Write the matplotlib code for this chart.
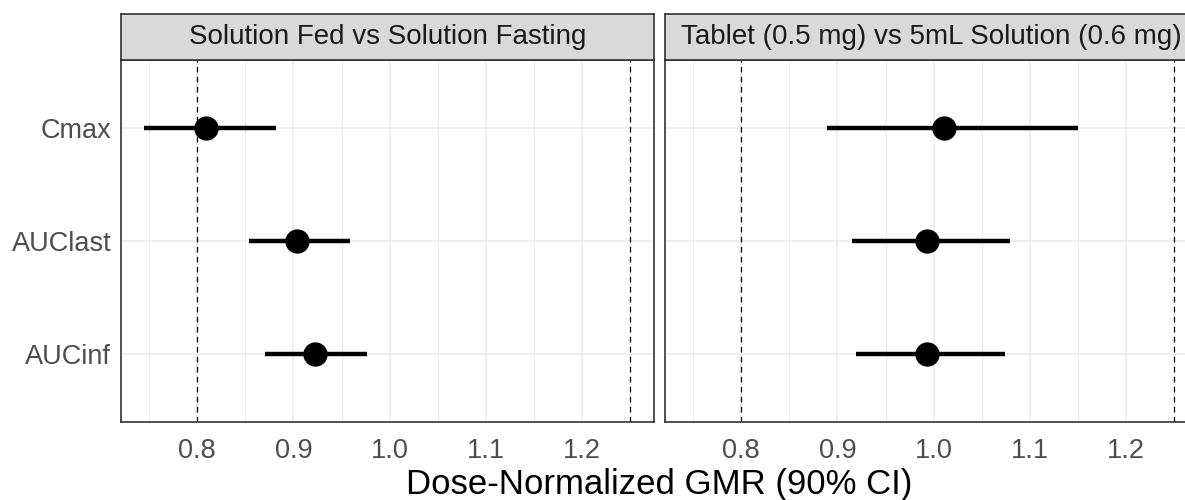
import matplotlib
matplotlib.use("Agg")

import numpy as np
import matplotlib.pyplot as plt

plt.rcParams['font.family'] = ['Liberation Sans', 'DejaVu Sans']

# ------------------------------------------------------------
# data
# ------------------------------------------------------------
metrics = ["Cmax", "AUClast", "AUCinf"]
panel_titles = ["Solution Fed vs Solution Fasting",
                "Tablet (0.5 mg) vs 5mL Solution (0.6 mg)"]

fed_gmr = [0.809, 0.904, 0.922]
fed_lo = [0.745, 0.854, 0.871]
fed_hi = [0.882, 0.959, 0.976]

tab_gmr = [1.011, 0.993, 0.993]
tab_lo = [0.889, 0.915, 0.919]
tab_hi = [1.150, 1.079, 1.074]

ref_lines = [0.8, 1.25]
x_major = [0.8, 0.9, 1.0, 1.1, 1.2]
x_minor = [0.75, 0.85, 0.95, 1.05, 1.15, 1.25]

panels = [(fed_gmr, fed_lo, fed_hi), (tab_gmr, tab_lo, tab_hi)]

# ------------------------------------------------------------
# layout (pixel based, figure 1185 x 500)
# ------------------------------------------------------------
W, H = 1185, 500
fig = plt.figure(figsize=(W / 100, H / 100), dpi=100)

panel_left = [121, 665]
panel_w = 533
panel_top, panel_bot = 60.3, 422.3
strip_top = 14.3

grid_col = '#EBEBEB'
border_col = '#333333'
text_col = '#4D4D4D'

for i, (gmr, lo, hi) in enumerate(panels):
    x0 = panel_left[i]
    ax = fig.add_axes([x0 / W, (H - panel_bot) / H, panel_w / W,
                       (panel_bot - panel_top) / H])
    y = np.arange(len(metrics))

    ax.set_xlim(0.721, 1.2745)
    ax.set_ylim(len(metrics) - 0.4, -0.6)

    # grid
    for xm in x_minor:
        ax.axvline(xm, color=grid_col, lw=0.7, zorder=0)
    for xm in x_major:
        ax.axvline(xm, color=grid_col, lw=1.1, zorder=0)
    for yy in y:
        ax.axhline(yy, color=grid_col, lw=1.1, zorder=0)

    for r in ref_lines:
        ax.axvline(r, color='black', lw=0.9, linestyle=(0, (4.5, 3.5)),
                   zorder=1)

    ax.hlines(y, lo, hi, color='black', lw=3.2, zorder=2)
    ax.plot(gmr, y, 'o', color='black', markersize=16.5, zorder=3)

    ax.set_xticks(x_major)
    ax.set_xticklabels([f'{v:.1f}' for v in x_major])
    ax.set_yticks(y)
    if i == 0:
        ax.set_yticklabels(metrics)
    else:
        ax.set_yticklabels([])
    ax.tick_params(length=0, labelsize=19.5, labelcolor=text_col)
    ax.tick_params(axis='x', pad=11)
    ax.tick_params(axis='y', pad=7)
    for s in ax.spines.values():
        s.set_color(border_col)
        s.set_linewidth(1.2)

    # facet strip
    sax = fig.add_axes([x0 / W, (H - panel_top) / H, panel_w / W,
                        (panel_top - strip_top) / H])
    sax.set_facecolor('#D9D9D9')
    sax.set_xticks([])
    sax.set_yticks([])
    for s in sax.spines.values():
        s.set_color(border_col)
        s.set_linewidth(1.2)
    sax.text(0.5, 0.5, panel_titles[i], ha='center', va='center',
             fontsize=20, color='#1A1A1A', transform=sax.transAxes)

fig.text((121 + 665 + panel_w) / 2 / W, (H - 494) / H,
         'Dose-Normalized GMR (90% CI)', ha='center', va='baseline',
         fontsize=25, color='black')

fig.savefig('out.png', dpi=100, facecolor='white')
